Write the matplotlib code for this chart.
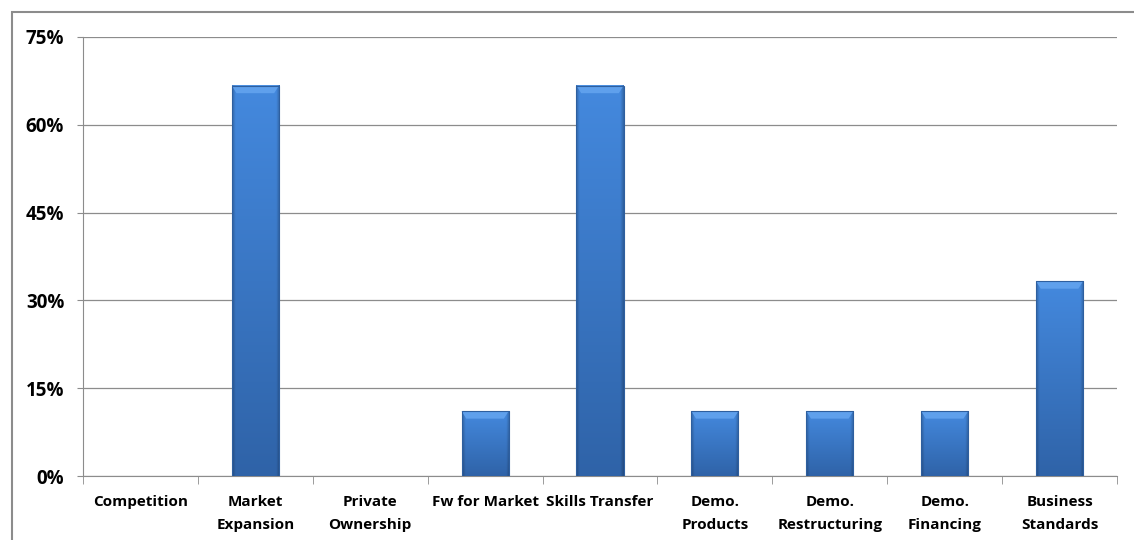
import numpy as np
import matplotlib
matplotlib.use("Agg")
import matplotlib.pyplot as plt
from matplotlib.patches import Rectangle, Polygon

categories = ["Competition", "Market\nExpansion", "Private\nOwnership", "Fw for Market",
              "Skills Transfer", "Demo.\nProducts", "Demo.\nRestructuring", "Demo.\nFinancing",
              "Business\nStandards"]
values = [0.0, 66.7, 0.0, 11.1, 66.7, 11.1, 11.1, 11.1, 33.3]
yticks = [0, 15, 30, 45, 60, 75]

plt.rcParams['font.family'] = ['Open Sans', 'DejaVu Sans']

fig = plt.figure(figsize=(11.34, 5.4), dpi=100)
fig.patches.append(Rectangle((12 / 1134, -0.1), 1.2, 1.1 - 12 / 540,
                             transform=fig.transFigure, fill=False,
                             edgecolor="#8c8c8c", linewidth=1.5))
ax = fig.add_axes([83 / 1134, 64 / 540, (1117 - 83) / 1134, (476 - 37) / 540])

x = np.arange(len(categories))
bars = ax.bar(x, values, width=0.41, color="#3b78c4", zorder=2)

# bevel-like shading: vertical gradient, darker thin sides
top_col = np.array([0x44, 0x89, 0xde]) / 255
bot_col = np.array([0x2f, 0x63, 0xa8]) / 255
nx, ny = 48, 100
u = np.linspace(0, 1, nx)
v = np.linspace(0, 1, ny)[:, None, None]
base = bot_col + (top_col - bot_col) * v
edge = np.clip(np.minimum(u, 1 - u) / 0.07, 0, 1)
side = 0.78 + 0.22 * edge
img = base * side[None, :, None]
for b in bars:
    h = b.get_height()
    if h <= 0:
        continue
    x0 = b.get_x()
    w = b.get_width()
    ax.imshow(img, extent=(x0, x0 + w, 0, h), aspect="auto", origin="lower",
              interpolation="bilinear", zorder=3)
    t = 1.3
    ax.add_patch(Polygon([(x0, h), (x0 + w, h), (x0 + w * 0.9, h - t), (x0 + w * 0.1, h - t)],
                         closed=True, color="#5fa0ec", zorder=4, linewidth=0))
    ax.add_patch(Rectangle((x0, 0), w, h, fill=False, edgecolor="#2e5f9f", linewidth=0.8, zorder=5))

ax.set_xlim(-0.5, len(categories) - 0.5)
ax.set_ylim(0, 75)
ax.set_yticks(yticks)
ax.set_yticklabels([f"{t}%" for t in yticks], fontsize=13.5, fontweight="bold")
ax.yaxis.grid(True, color="#8c8c8c", linewidth=0.9, zorder=0)
ax.set_axisbelow(True)

ax.set_xticks(x)
ax.set_xticklabels(categories, fontsize=11, fontweight="bold", linespacing=1.75)
ax.tick_params(axis="x", length=0, pad=14)
ax.set_xticks(np.arange(len(categories) + 1) - 0.5, minor=True)
ax.tick_params(axis="x", which="minor", length=6, color="#8c8c8c", direction="out")
ax.tick_params(axis="y", length=4.5, color="#8c8c8c", pad=9)

for s in ["top", "right"]:
    ax.spines[s].set_visible(False)
ax.spines["left"].set_color("#8c8c8c")
ax.spines["bottom"].set_color("#8c8c8c")

fig.savefig("out.png", dpi=100)
